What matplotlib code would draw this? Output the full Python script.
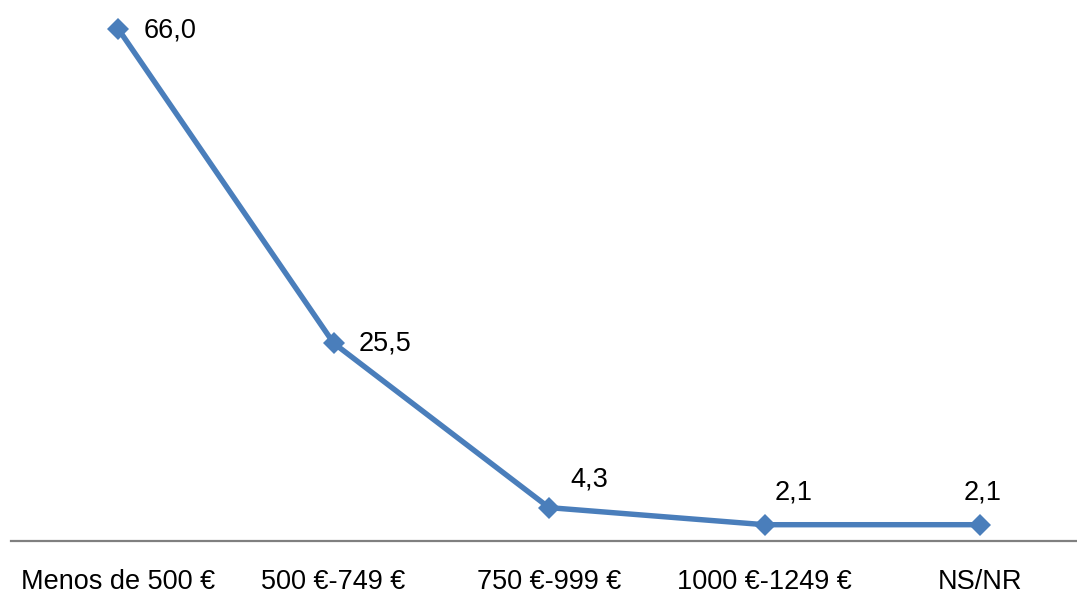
import matplotlib
matplotlib.use("Agg")
import matplotlib.pyplot as plt

plt.rcParams['font.family'] = ['Liberation Sans', 'DejaVu Sans']

categories = ["Menos de 500 €", "500 €-749 €", "750 €-999 €", "1000 €-1249 €", "NS/NR"]
values = [66.0, 25.5, 4.3, 2.1, 2.1]
# label offsets in pixels (dx, dy) and alignment
label_offsets = [(26, -2, "left"), (25, 0, "left"), (21, 28, "left"), (10, 32, "left"), (3, 32, "center")]

W, H = 1077, 593
fig = plt.figure(figsize=(W / 100, H / 100), dpi=100)
ax = fig.add_axes([11 / W, 1 - 541 / H, 1 - 11 / W, 541 / H])

x = list(range(len(categories)))
ax.plot(x, values, color="#4a7ebb", linewidth=3.9, marker="D",
        markersize=11, markeredgewidth=0, solid_joinstyle="miter")

for xi, v, (dx, dy, ha) in zip(x, values, label_offsets):
    ax.annotate(f"{v:.1f}".replace(".", ","), (xi, v),
                xytext=(dx * 0.72, dy * 0.72), textcoords="offset points",
                ha=ha, va="center", fontsize=19.5, color="black")

ax.set_xlim(-0.497, 4.45)
ax.set_ylim(0, 69.7)
ax.set_yticks([])
ax.set_xticks(x)
ax.set_xticklabels(categories, fontsize=19.5)
ax.tick_params(axis="x", length=0, pad=20)
for s in ["top", "right", "left"]:
    ax.spines[s].set_visible(False)
ax.spines["bottom"].set_color("#808080")
ax.spines["bottom"].set_linewidth(1.6)

fig.savefig("out.png", dpi=100)
